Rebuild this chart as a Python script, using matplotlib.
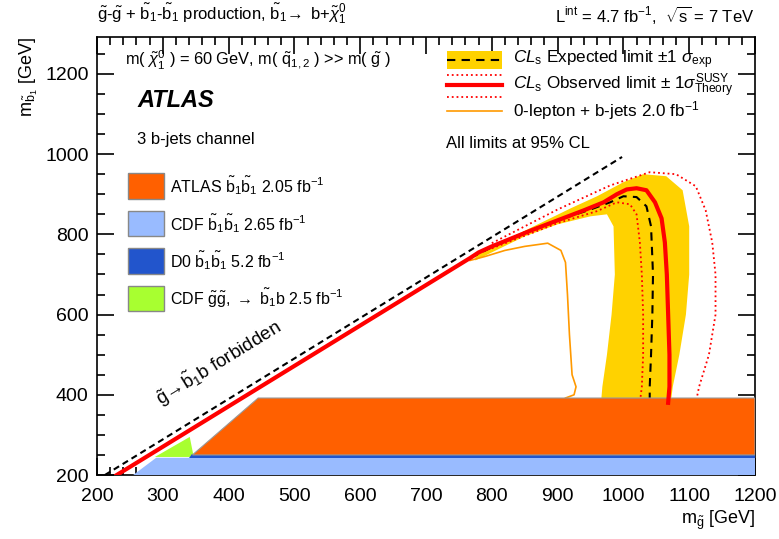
import numpy as np
import matplotlib.pyplot as plt
from matplotlib.patches import Polygon, Rectangle
from matplotlib.lines import Line2D

plt.rcParams['font.family'] = ['Liberation Sans', 'DejaVu Sans']
plt.rcParams['mathtext.fontset'] = 'custom'
plt.rcParams['mathtext.rm'] = 'Liberation Sans'
plt.rcParams['mathtext.it'] = 'Liberation Sans:italic'
plt.rcParams['mathtext.bf'] = 'Liberation Sans:bold'

# --- data (GeV) ---
# observed limit (CLs)
obs_x = [230, 767, 780, 800, 830, 860, 900, 940, 970, 990, 1005, 1020, 1035, 1048, 1058, 1063, 1066, 1068, 1070, 1070, 1068]
obs_y = [200, 741, 755, 770, 790, 810, 835, 860, 880, 900, 912, 915, 910, 880, 840, 780, 700, 600, 500, 420, 380]
# expected limit
exp_x = [767, 800, 850, 900, 950, 980, 1000, 1020, 1035, 1042, 1045, 1044, 1042, 1040, 1040]
exp_y = [741, 768, 805, 835, 862, 880, 895, 893, 870, 820, 700, 600, 500, 420, 380]
# +-1 sigma expected band (outer / inner edges)
band_out_x = [775, 820, 870, 920, 960, 1000, 1030, 1065, 1090, 1100, 1100, 1095, 1085, 1075, 1072]
band_out_y = [748, 785, 825, 865, 895, 930, 950, 945, 910, 820, 700, 600, 500, 420, 380]
band_in_x = [775, 850, 900, 950, 975, 985, 987, 982, 975, 968, 966]
band_in_y = [735, 795, 825, 845, 850, 820, 700, 600, 500, 420, 380]
# observed +-1 sigma theory (dotted)
up_x = [800, 900, 980, 1040, 1080, 1110, 1125, 1135, 1140, 1140, 1130, 1115, 1110]
up_y = [778, 862, 922, 955, 950, 920, 860, 780, 700, 600, 500, 420, 380]
dn_x = [800, 900, 960, 990, 1010, 1020, 1025, 1028, 1030, 1030, 1028, 1025]
dn_y = [765, 828, 858, 880, 875, 850, 780, 700, 600, 500, 420, 380]
# 0-lepton + b-jets 2.0 fb-1
zl_x = [767, 790, 820, 850, 885, 905, 912, 915, 918, 922, 928, 925, 912]
zl_y = [735, 745, 760, 770, 778, 760, 730, 650, 550, 450, 420, 400, 392]
# kinematic boundary g -> b1 b
kin_x = [212, 998]
kin_y = [200, 993]
# previous limits
atlas_x = [345, 445, 1200, 1200]
atlas_y = [250, 392, 392, 250]
d0_x = [340, 1200, 1200, 345]
d0_y = [243, 243, 252, 252]
cdf_x = [255, 290, 1200, 1200]
cdf_y = [200, 243, 243, 200]
cdfgg_x = [288, 341, 347]
cdfgg_y = [245, 295, 245]

yellow = '#FFD200'
orange = '#FF6000'
lblue = '#99BBFF'
dblue = '#2255CC'
green = '#A8FF30'

fig = plt.figure(figsize=(7.79, 5.39), dpi=100)
ax = fig.add_axes([0.1245, 0.1187, 0.8447, 0.8126])

band = np.column_stack([band_out_x + band_in_x[::-1], band_out_y + band_in_y[::-1]])
ax.add_patch(Polygon(band, closed=True, facecolor=yellow, edgecolor='none', zorder=1))
ax.plot(exp_x, exp_y, color='black', ls=(0, (4, 3)), lw=1.5, zorder=3)
ax.plot(up_x, up_y, color='red', ls=':', lw=1.3, zorder=3)
ax.plot(dn_x, dn_y, color='red', ls=':', lw=1.3, zorder=3)
ax.plot(zl_x, zl_y, color='#FF9900', lw=1.2, zorder=3)

ax.add_patch(Polygon(np.column_stack([cdf_x, cdf_y]), facecolor=lblue, edgecolor='none', zorder=4))
ax.add_patch(Polygon(np.column_stack([cdfgg_x, cdfgg_y]), facecolor=green, edgecolor='none', zorder=4))
ax.add_patch(Polygon(np.column_stack([d0_x, d0_y]), facecolor=dblue, edgecolor='none', zorder=4))
ax.add_patch(Polygon(np.column_stack([atlas_x, atlas_y]), facecolor=orange, edgecolor='#999999', lw=0.8, zorder=5))

ax.plot(obs_x, obs_y, color='red', lw=3, zorder=6)
ax.plot(kin_x, kin_y, color='black', ls=(0, (3, 2)), lw=1.5, zorder=6)
ax.text(394, 452, r'$\tilde{\mathrm{g}}\!\rightarrow\!\tilde{\mathrm{b}}_1\mathrm{b}$ forbidden', fontsize=13.5,
        rotation=31.6, rotation_mode='anchor', ha='center', va='bottom', zorder=7)

ax.set_xlim(200, 1200)
ax.set_ylim(200, 1292)
ax.set_xticks(np.arange(200, 1201, 100))
ax.set_xticks(np.arange(200, 1201, 20), minor=True)
ax.set_yticks(np.arange(200, 1201, 200))
ax.set_yticks(np.arange(200, 1292, 50), minor=True)
ax.tick_params(which='both', direction='in', top=True, right=True, labelsize=14, width=1.2)
ax.tick_params(which='major', length=12)
ax.tick_params(which='minor', length=6)
ax.tick_params(axis='x', pad=9)
ax.tick_params(axis='y', pad=6)
for s in ax.spines.values():
    s.set_linewidth(1.2)
ax.set_xlabel(r'm$_{\tilde{\mathrm{g}}}$ [GeV]', fontsize=13, loc='right', labelpad=3)
ax.set_ylabel(r'm$_{\tilde{\mathrm{b}}_1}$ [GeV]', fontsize=13, loc='top', labelpad=4)

fig.text(0.1245, 0.952, r'$\tilde{\mathrm{g}}$-$\tilde{\mathrm{g}}$ + $\tilde{\mathrm{b}}_1$-$\tilde{\mathrm{b}}_1$ production, '
         r'$\tilde{\mathrm{b}}_1\!\rightarrow$ b+$\tilde{\chi}_1^0$', fontsize=12, va='bottom')
fig.text(0.969, 0.952, r'L$^{\mathrm{int}}$ = 4.7 fb$^{-1}$,  $\sqrt{\mathrm{s}}$ = 7 TeV', fontsize=12,
         ha='right', va='bottom')

tr = ax.transAxes
ax.text(0.0425, 0.947, r'm( $\tilde{\chi}_1^0$ ) = 60 GeV, m( $\tilde{\mathrm{q}}_{1,2}$ ) >> m( $\tilde{\mathrm{g}}$ )',
        transform=tr, fontsize=11.8, va='center')
ax.text(0.061, 0.856, 'ATLAS', transform=tr, fontsize=17, fontweight='bold', fontstyle='italic', va='center')
ax.text(0.061, 0.765, '3 b-jets channel', transform=tr, fontsize=12, va='center')
ax.text(0.530, 0.756, 'All limits at 95% CL', transform=tr, fontsize=12, va='center')

# left legend (previous limits)
leg_cols = [orange, lblue, dblue, green]
leg_labels = [r'ATLAS $\tilde{\mathrm{b}}_1\tilde{\mathrm{b}}_1$ 2.05 fb$^{-1}$',
              r'CDF $\tilde{\mathrm{b}}_1\tilde{\mathrm{b}}_1$ 2.65 fb$^{-1}$',
              r'D0 $\tilde{\mathrm{b}}_1\tilde{\mathrm{b}}_1$ 5.2 fb$^{-1}$',
              r'CDF $\tilde{\mathrm{g}}\tilde{\mathrm{g}}$, $\rightarrow$ $\tilde{\mathrm{b}}_1$b 2.5 fb$^{-1}$']
for i, (c, l) in enumerate(zip(leg_cols, leg_labels)):
    yc = 0.660 - i * 0.0855
    ax.add_patch(Rectangle((0.047, yc - 0.029), 0.055, 0.058, transform=tr, facecolor=c,
                           edgecolor='#888888', lw=1, zorder=8))
    ax.text(0.111, yc, l, transform=tr, fontsize=11.5, va='center', zorder=8)

# right legend
ax.add_patch(Rectangle((0.532, 0.927), 0.0835, 0.041, transform=tr, facecolor=yellow, edgecolor='none', zorder=8))
ax.add_line(Line2D([0.532, 0.6155], [0.9475, 0.9475], transform=tr, color='black', ls=(0, (4, 3)), lw=1.5, zorder=9))
ax.add_line(Line2D([0.532, 0.6155], [0.913, 0.913], transform=tr, color='red', ls=':', lw=1.3, zorder=9))
ax.add_line(Line2D([0.532, 0.6155], [0.890, 0.890], transform=tr, color='red', lw=3, zorder=9))
ax.add_line(Line2D([0.532, 0.6155], [0.863, 0.863], transform=tr, color='red', ls=':', lw=1.3, zorder=9))
ax.add_line(Line2D([0.532, 0.6155], [0.831, 0.831], transform=tr, color='#FF9900', lw=1.2, zorder=9))
ax.text(0.632, 0.9475, r'$CL_{\mathrm{s}}$ Expected limit $\pm$1 $\sigma_{\mathrm{exp}}$', transform=tr,
        fontsize=12.3, va='center')
ax.text(0.632, 0.888, r'$CL_{\mathrm{s}}$ Observed limit $\pm$ 1$\sigma^{\mathrm{SUSY}}_{\mathrm{Theory}}$', transform=tr,
        fontsize=12.3, va='center')
ax.text(0.632, 0.831, r'0-lepton + b-jets 2.0 fb$^{-1}$', transform=tr, fontsize=12.3, va='center')

fig.savefig('out.png', dpi=100)
